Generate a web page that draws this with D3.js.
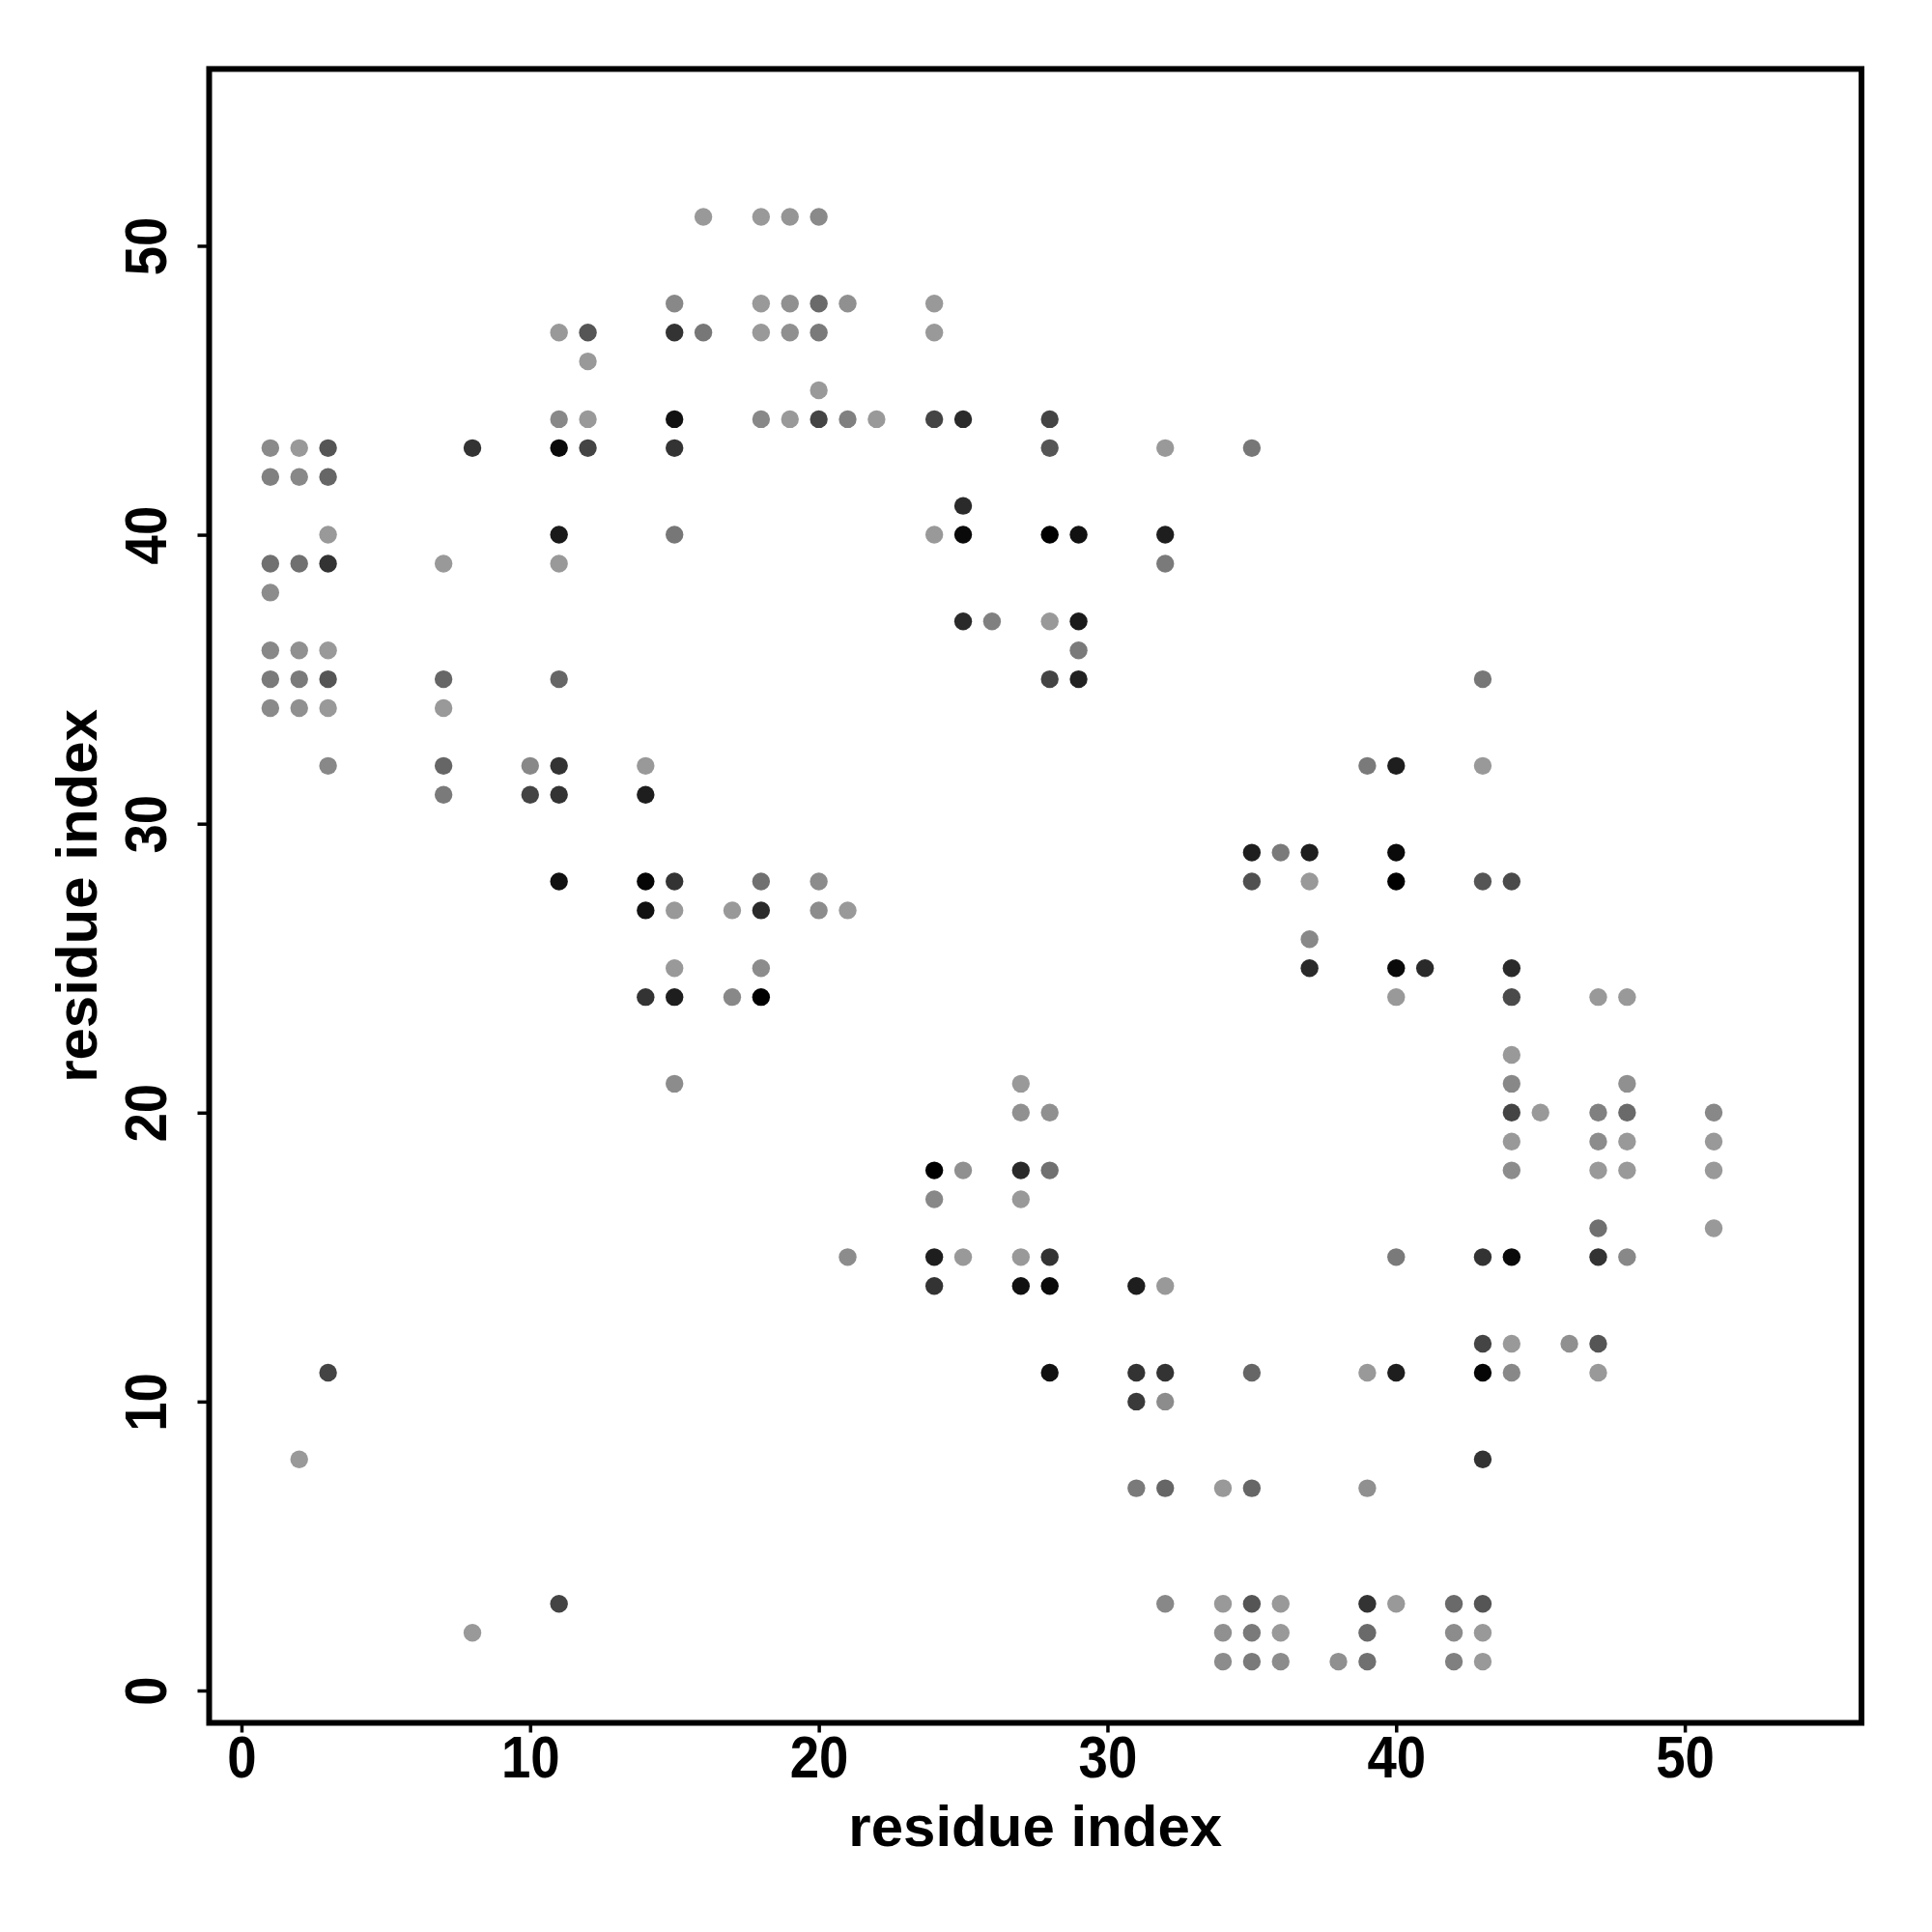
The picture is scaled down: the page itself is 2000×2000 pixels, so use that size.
<!DOCTYPE html>
<html>
<head>
<meta charset="utf-8">
<script src="https://cdn.jsdelivr.net/npm/d3@7"></script>
<style>
  html, body { margin: 0; padding: 0; background: #fff; }
  svg { display: block; }
  text { font-family: "Liberation Sans", Arial, Helvetica, sans-serif; font-weight: bold; }
</style>
</head>
<body>
<svg id="chart" width="2000" height="2000"></svg>
<script>
// ---- data: contact map (residue i, residue j, grey level 0..255) ----
const resX = [
  1,1,1,1,1,1,1,
  2,2,2,2,2,2,2,
  3,3,3,3,3,3,3,3,3,
  7,7,7,7,7,
  8,8,
  10,10,
  11,11,11,11,11,11,11,11,11,11,
  12,12,12,12,
  14,14,14,14,14,
  15,15,15,15,15,15,15,15,15,15,
  16,16,
  17,17,
  18,18,18,18,18,18,18,18,
  19,19,19,19,
  20,20,20,20,20,20,20,
  21,21,21,21,
  22,
  24,24,24,24,24,24,24,24,
  25,25,25,25,25,25,
  26,
  27,27,27,27,27,27,
  28,28,28,28,28,28,28,28,28,28,
  29,29,29,29,
  31,31,31,31,
  32,32,32,32,32,32,32,32,
  34,34,34,34,
  35,35,35,35,35,35,35,35,
  36,36,36,36,
  37,37,37,37,
  38,
  39,39,39,39,39,39,
  40,40,40,40,40,40,40,40,
  41,
  42,42,42,
  43,43,43,43,43,43,43,43,43,43,
  44,44,44,44,44,44,44,44,44,44,44,
  45,
  46,
  47,47,47,47,47,47,47,47,
  48,48,48,48,48,48,
  51,51,51,51
];
const resY = [
  43,42,39,38,36,35,34,
  43,42,39,36,35,34,8,
  43,42,40,39,36,35,34,32,11,
  39,35,34,32,31,
  43,2,
  32,31,
  47,44,43,40,39,35,32,31,28,3,
  47,46,44,43,
  32,31,28,27,24,
  48,47,44,43,40,28,27,25,24,21,
  51,47,
  27,24,
  51,48,47,44,28,27,25,24,
  51,48,47,44,
  51,48,47,45,44,28,27,
  48,44,27,15,
  44,
  48,47,44,40,18,17,15,14,
  44,41,40,37,18,15,
  37,
  21,20,18,17,15,14,
  44,43,40,37,35,20,18,15,14,11,
  40,37,36,35,
  14,11,10,7,
  43,40,39,14,11,10,7,3,
  7,3,2,1,
  43,29,28,11,7,3,2,1,
  29,3,2,1,
  29,28,26,25,
  1,
  32,11,7,3,2,1,
  32,29,28,25,24,15,11,3,
  25,
  3,2,1,
  35,32,28,15,12,11,8,3,2,1,
  28,25,24,22,21,20,19,18,15,12,11,
  20,
  12,
  24,20,19,18,16,15,12,11,
  24,21,20,19,18,15,
  20,19,18,16
];
const shade = [
  0x8a,0x80,0x70,0x8c,0x88,0x7a,0x8a,
  0x99,0x88,0x70,0x90,0x7a,0x90,0x99,
  0x55,0x66,0x99,0x33,0x99,0x55,0x99,0x88,0x44,
  0x99,0x66,0x99,0x66,0x7a,
  0x33,0x99,
  0x88,0x44,
  0x99,0x88,0x0a,0x1a,0x99,0x66,0x33,0x33,0x11,0x44,
  0x55,0x99,0x99,0x44,
  0x99,0x1e,0x05,0x11,0x33,
  0x88,0x33,0x11,0x33,0x77,0x33,0x99,0x99,0x1e,0x8c,
  0x99,0x77,
  0x99,0x88,
  0x99,0x99,0x99,0x88,0x70,0x2a,0x8c,0x00,
  0x95,0x90,0x90,0x99,
  0x8a,0x6a,0x7a,0x99,0x44,0x8c,0x8c,
  0x90,0x80,0x99,0x8c,
  0x99,
  0x99,0x99,0x44,0x99,0x00,0x88,0x1e,0x33,
  0x2a,0x2a,0x0a,0x2a,0x90,0x99,
  0x80,
  0x99,0x90,0x2a,0x99,0x99,0x11,
  0x44,0x55,0x00,0x99,0x44,0x90,0x70,0x33,0x0a,0x11,
  0x11,0x1a,0x7a,0x22,
  0x1e,0x33,0x3a,0x7a,
  0x99,0x1e,0x7a,0x99,0x33,0x8c,0x66,0x88,
  0x99,0x99,0x90,0x8c,
  0x77,0x1e,0x50,0x66,0x66,0x55,0x7a,0x7a,
  0x7a,0x99,0x99,0x8c,
  0x1e,0x99,0x88,0x2a,
  0x90,
  0x7a,0x99,0x90,0x33,0x6a,0x70,
  0x1e,0x0a,0x00,0x0a,0x99,0x7a,0x1e,0x99,
  0x2a,
  0x6a,0x8c,0x80,
  0x77,0x99,0x55,0x33,0x44,0x05,0x33,0x55,0x99,0x99,
  0x4a,0x2a,0x4a,0x99,0x88,0x44,0x99,0x8c,0x0a,0x99,0x88,
  0x99,
  0x90,
  0x99,0x80,0x8c,0x99,0x70,0x33,0x55,0x99,
  0x99,0x90,0x6a,0x99,0x99,0x88,
  0x88,0x99,0x99,0x99
];
const xTicks = [0, 10, 20, 30, 40, 50];
const yTicks = [0, 10, 20, 30, 40, 50];
const xTitle = "residue index";
const yTitle = "residue index";
const limits = [1, 54];

(function () {
  // ---- layout ----
  const pL = 216.5, pR = 1927, pT = 71.4, pB = 1783.5;
  const ext = (limits[1] - limits[0]) * 0.04;
  const dom = [limits[0] - ext, limits[1] + ext];

  const svg = d3.select("#chart");
  const x = d3.scaleLinear().domain(dom).range([pL, pR]);
  const y = d3.scaleLinear().domain(dom).range([pB, pT]);

  const pts = resX.map((v, i) => ({ i: v, j: resY[i], g: shade[i] }));

  svg.append("g")
    .selectAll("circle")
    .data(pts)
    .join("circle")
    .attr("cx", d => x(d.i))
    .attr("cy", d => y(d.j))
    .attr("r", 9.2)
    .attr("fill", d => d3.rgb(d.g, d.g, d.g).formatHex());

  const tickFont = 62, squeeze = 0.88;

  // axes
  const gx = svg.append("g")
    .attr("transform", `translate(0,${pB})`)
    .call(d3.axisBottom(x).tickValues(xTicks).tickFormat(d3.format("d")).tickSize(10));
  gx.select(".domain").remove();
  gx.selectAll(".tick line").attr("stroke", "#000").attr("stroke-width", 3.5);
  gx.selectAll(".tick text")
    .attr("x", null).attr("y", null).attr("dy", null)
    .attr("transform", `translate(0,${1840 - pB}) scale(${squeeze},1)`)
    .attr("text-anchor", "middle")
    .attr("fill", "#000")
    .style("font-size", tickFont + "px");

  const gy = svg.append("g")
    .attr("transform", `translate(${pL},0)`)
    .call(d3.axisLeft(y).tickValues(yTicks).tickFormat(d3.format("d")).tickSize(12));
  gy.select(".domain").remove();
  gy.selectAll(".tick line").attr("stroke", "#000").attr("stroke-width", 3.5);
  gy.selectAll(".tick text")
    .attr("x", null).attr("y", null).attr("dy", null)
    .attr("transform", `translate(${172 - pL},0) rotate(-90) scale(${squeeze},1)`)
    .attr("text-anchor", "middle")
    .attr("fill", "#000")
    .style("font-size", tickFont + "px");

  // frame
  svg.append("rect")
    .attr("x", pL).attr("y", pT)
    .attr("width", pR - pL).attr("height", pB - pT)
    .attr("fill", "none").attr("stroke", "#000").attr("stroke-width", 6);

  // titles
  svg.append("text")
    .attr("x", (pL + pR) / 2).attr("y", 1911)
    .attr("text-anchor", "middle")
    .style("font-size", "60px")
    .text(xTitle);

  svg.append("text")
    .attr("transform", `translate(100,${(pT + pB) / 2}) rotate(-90)`)
    .attr("text-anchor", "middle")
    .style("font-size", "60px")
    .text(yTitle);
})();
</script>
</body>
</html>
